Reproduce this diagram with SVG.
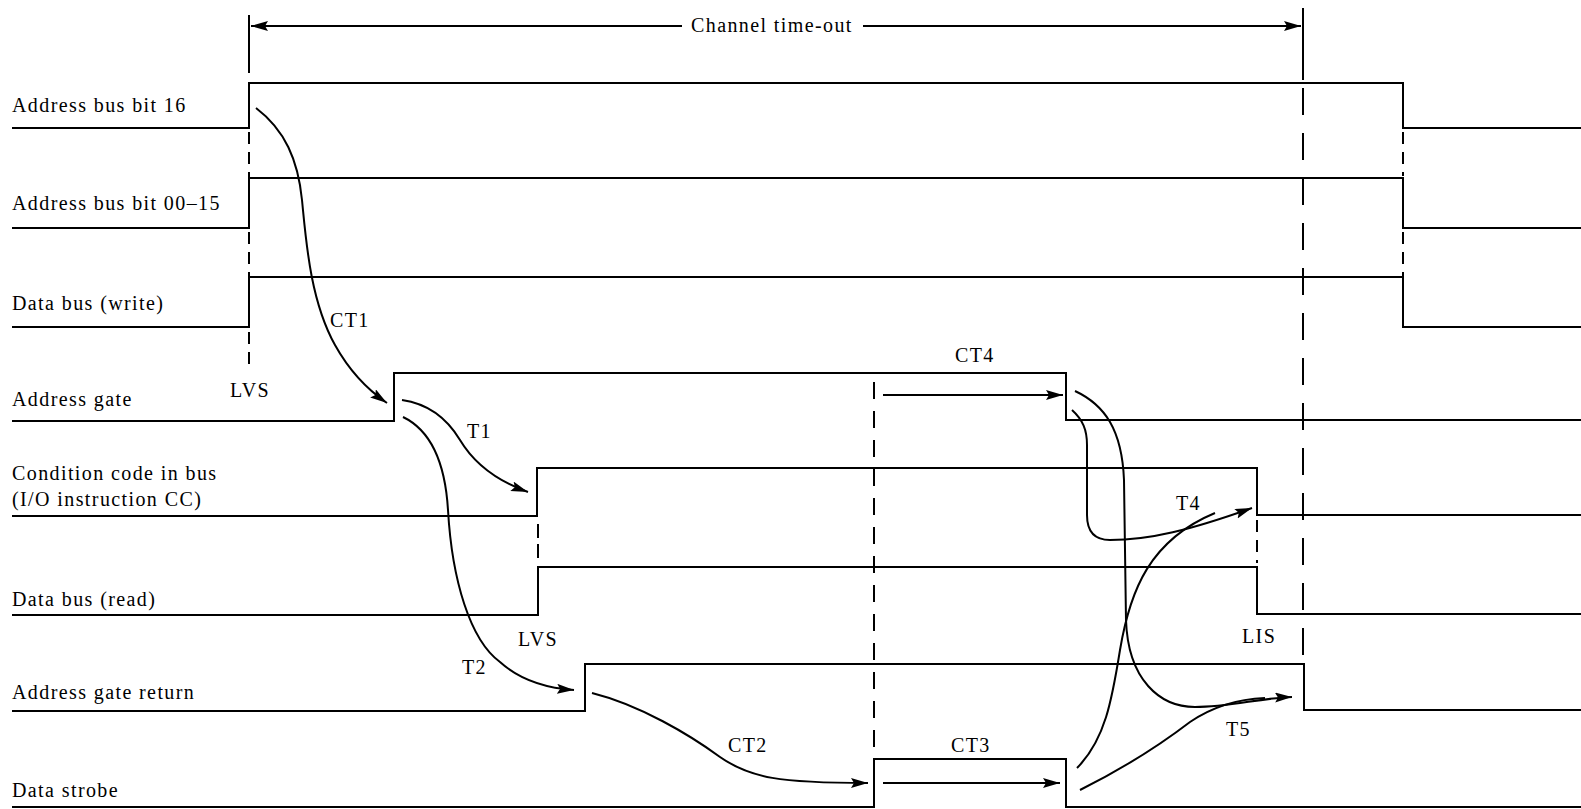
<svg xmlns="http://www.w3.org/2000/svg" width="1581" height="809" viewBox="0 0 1581 809">
<style>
  .sig{fill:none;stroke:#000;stroke-width:2}
  .dash{fill:none;stroke:#000;stroke-width:2}
  .conn{fill:none;stroke:#000;stroke-width:2}
  text{font-family:"Liberation Serif","Times New Roman",serif;font-size:20px;letter-spacing:1.4px;fill:#000}
</style>
<defs>
  <marker id="arr" markerUnits="userSpaceOnUse" markerWidth="20" markerHeight="12" refX="17" refY="5" orient="auto">
    <path d="M0,0 L17,5 L0,10 L3,5 z" fill="#000"/>
  </marker>
</defs>
<rect width="1581" height="809" fill="#fff"/>

<g id="labels">
  <text x="12" y="112">Address bus bit 16</text>
  <text x="12" y="210">Address bus bit 00–15</text>
  <text x="12" y="310">Data bus (write)</text>
  <text x="12" y="406">Address gate</text>
  <text x="12" y="480">Condition code in bus</text>
  <text x="12" y="506">(I/O instruction CC)</text>
  <text x="12" y="606">Data bus (read)</text>
  <text x="12" y="699">Address gate return</text>
  <text x="12" y="797">Data strobe</text>
</g>

<g id="sig-addr16"><path class="sig" d="M12,128 L249,128 L249,83 L1403,83 L1403,128 L1581,128"/></g>
<g id="sig-addr0015"><path class="sig" d="M12,228 L249,228 L249,178 L1403,178 L1403,228 L1581,228"/></g>
<g id="sig-dbwrite"><path class="sig" d="M12,327 L249,327 L249,277 L1403,277 L1403,327 L1581,327"/></g>
<g id="sig-addrgate"><path class="sig" d="M12,421 L394,421 L394,373 L1066,373 L1066,420 L1581,420"/></g>
<g id="sig-cc"><path class="sig" d="M12,516 L537,516 L537,468 L1257,468 L1257,515 L1581,515"/></g>
<g id="sig-dbread"><path class="sig" d="M12,615 L538,615 L538,567 L1257,567 L1257,614 L1581,614"/></g>
<g id="sig-agr"><path class="sig" d="M12,711 L585,711 L585,664 L1304,664 L1304,710 L1581,710"/></g>
<g id="sig-ds"><path class="sig" d="M12,807 L874,807 L874,759 L1066,759 L1066,807 L1581,807"/></g>

<g id="timeout">
  <line class="sig" x1="249" y1="15" x2="249" y2="73"/>
  <line class="sig" x1="1303" y1="8" x2="1303" y2="80"/>
  <line class="conn" x1="682" y1="26" x2="251" y2="26" marker-end="url(#arr)"/>
  <line class="conn" x1="863" y1="26" x2="1301" y2="26" marker-end="url(#arr)"/>
  <text x="691" y="32">Channel time-out</text>
</g>

<g id="dashes">
  <line class="dash" x1="249" y1="132" x2="249" y2="372" stroke-dasharray="12,8"/>
  <line class="dash" x1="1403" y1="132" x2="1403" y2="176" stroke-dasharray="12,8"/>
  <line class="dash" x1="1403" y1="232" x2="1403" y2="276" stroke-dasharray="12,8"/>
  <line class="dash" x1="874" y1="382" x2="874" y2="748" stroke-dasharray="17,12"/>
  <line class="dash" x1="1303" y1="88" x2="1303" y2="655" stroke-dasharray="27,18"/>
  <line class="dash" x1="538" y1="524" x2="538" y2="558" stroke-dasharray="14,6"/>
  <line class="dash" x1="1257" y1="520" x2="1257" y2="563" stroke-dasharray="12,8"/>
</g>

<g id="connectors">
  <path class="conn" d="M256,108 C285,130 298,160 302,200 C306,240 310,300 335,345 C350,372 368,390 387,403" marker-end="url(#arr)"/>
  <path class="conn" d="M402,400 C430,404 448,420 460,440 C475,465 500,482 528,492" marker-end="url(#arr)"/>
  <path class="conn" d="M403,417 C430,430 445,460 448,510 C452,580 470,640 500,662 C520,680 545,688 574,690" marker-end="url(#arr)"/>
  <path class="conn" d="M592,693 C640,705 690,735 720,757 C750,778 780,783 868,783" marker-end="url(#arr)"/>
  <path class="conn" d="M883,783 L1060,783" marker-end="url(#arr)"/>
  <path class="conn" d="M883,395 L1063,395" marker-end="url(#arr)"/>
  <path class="conn" d="M1072,410 C1083,420 1087,430 1087,445 L1087,515 C1087,532 1095,540 1110,540 C1150,540 1190,530 1252,508" marker-end="url(#arr)"/>
  <path class="conn" d="M1075,391 C1105,405 1122,430 1124,480 L1126,620 C1128,680 1160,707 1195,707 C1230,707 1260,698 1292,697" marker-end="url(#arr)"/>
  <path class="conn" d="M1077,768 C1105,740 1112,700 1120,650 C1130,590 1150,540 1215,513"/>
  <path class="conn" d="M1080,790 C1120,770 1160,745 1190,722 C1215,705 1240,699 1265,698"/>
</g>

<g id="conn-labels">
  <text x="330" y="327">CT1</text>
  <text x="230" y="397">LVS</text>
  <text x="467" y="438">T1</text>
  <text x="518" y="646">LVS</text>
  <text x="462" y="674">T2</text>
  <text x="955" y="362">CT4</text>
  <text x="1176" y="510">T4</text>
  <text x="1242" y="643">LIS</text>
  <text x="1226" y="736">T5</text>
  <text x="728" y="752">CT2</text>
  <text x="951" y="752">CT3</text>
</g>
</svg>
